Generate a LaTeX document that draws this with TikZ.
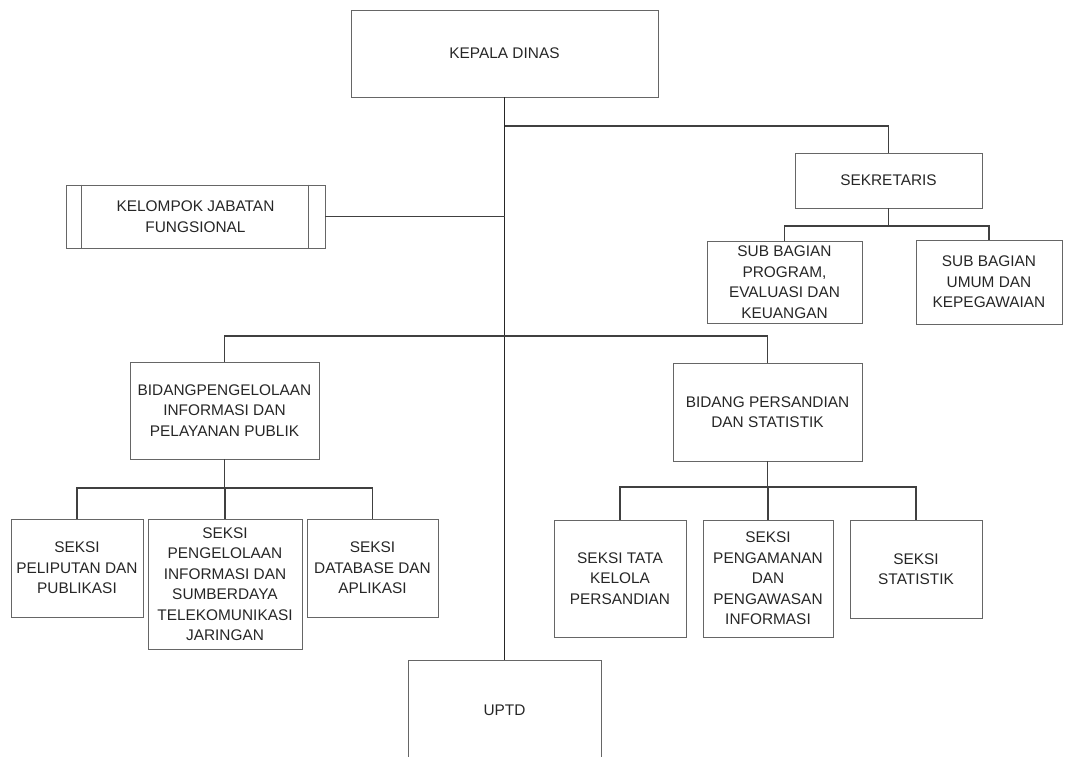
\documentclass[tikz,border=0pt]{standalone}
\usepackage{fontspec}
\setmainfont{Liberation Sans}
\usetikzlibrary{calc}

\begin{document}
\begin{tikzpicture}[x=1pt,y=-1pt,
    box/.style={draw=black!60, line width=0.9pt, align=center, inner sep=0pt,
        font=\fontsize{15.4}{20.5}\selectfont, text=black!85},
    link/.style={draw=black!75, line width=1.1pt}]
    % Page frame
    \useasboundingbox (0,0) rectangle (1065,756);
    \clip (0,0) rectangle (1065,756);

    % Levels of the branch lines
    \coordinate (busS) at (0,226);
    \coordinate (busB) at (0,336);
    \coordinate (busL) at (0,488);
    \coordinate (busR) at (0,487);

    % Draw head and staff
    \node[box, minimum width=307pt, minimum height=87pt] (kepala) at (504.5,53.5) {KEPALA DINAS};
    \node[box, minimum width=187pt, minimum height=55pt] (sekre) at (888.5,180.5) {SEKRETARIS};
    \node[box, minimum width=259pt, minimum height=63pt] (kjf) at (195.5,216.5) {KELOMPOK JABATAN\\FUNGSIONAL};
    \draw[black!60, line width=0.9pt] ([xshift=16pt]kjf.north west) -- ([xshift=16pt]kjf.south west);
    \draw[black!60, line width=0.9pt] ([xshift=-17pt]kjf.north east) -- ([xshift=-17pt]kjf.south east);
    \node[box, minimum width=155pt, minimum height=82pt] (subprog) at (784.5,282) {SUB BAGIAN\\PROGRAM,\\EVALUASI DAN\\KEUANGAN};
    \node[box, minimum width=146pt, minimum height=84pt] (subumum) at (989,282) {SUB BAGIAN\\UMUM DAN\\KEPEGAWAIAN};

    % Draw the two bidang
    \node[box, minimum width=189pt, minimum height=97pt] (bid1) at (224.5,410.5) {BIDANGPENGELOLAAN\\INFORMASI DAN\\PELAYANAN PUBLIK};
    \node[box, minimum width=189pt, minimum height=98pt] (bid2) at (767.5,412) {BIDANG PERSANDIAN\\DAN STATISTIK};

    % Draw seksi under bidang 1
    \node[box, minimum width=132pt, minimum height=98pt] (s11) at (77,568) {SEKSI\\PELIPUTAN DAN\\PUBLIKASI};
    \node[box, minimum width=154pt, minimum height=130pt] (s12) at (225,584) {SEKSI\\PENGELOLAAN\\INFORMASI DAN\\SUMBERDAYA\\TELEKOMUNIKASI\\JARINGAN};
    \node[box, minimum width=131pt, minimum height=98pt] (s13) at (372.5,568) {SEKSI\\DATABASE DAN\\APLIKASI};

    % Draw seksi under bidang 2
    \node[box, minimum width=132pt, minimum height=117pt] (s21) at (620,578.5) {SEKSI TATA\\KELOLA\\PERSANDIAN};
    \node[box, minimum width=130pt, minimum height=117pt] (s22) at (768,578.5) {SEKSI\\PENGAMANAN\\DAN\\PENGAWASAN\\INFORMASI};
    \node[box, minimum width=132pt, minimum height=98pt] (s23) at (916,569) {SEKSI\\STATISTIK};

    % Draw UPTD (runs off the page)
    \node[box, minimum width=193pt, minimum height=100pt] (uptd) at (504.5,710) {UPTD};

    % Draw main line and branches
    \draw[link, draw=black!85] (kepala.south) -- (uptd.north);
    \draw[link] (kepala.south |- 0,126) -| (sekre.north);
    \draw[link] (kjf.east) -- (kjf.east -| kepala.south);
    \draw[link] (sekre.south) -- (sekre.south |- busS);
    \draw[link] (subprog.north) |- (busS -| subumum.north) -- (subumum.north);
    \draw[link] (bid1.north) |- (busB -| bid2.north) -- (bid2.north);

    % Draw seksi branches
    \draw[link] (bid1.south) -- (bid1.south |- busL);
    \draw[link] (s11.north) |- (busL -| s13.north) -- (s13.north);
    \draw[link] (s12.north) -- (s12.north |- busL);
    \draw[link] (bid2.south) -- (bid2.south |- busR);
    \draw[link] (s21.north) |- (busR -| s23.north) -- (s23.north);
    \draw[link] (s22.north) -- (s22.north |- busR);
\end{tikzpicture}
\end{document}
